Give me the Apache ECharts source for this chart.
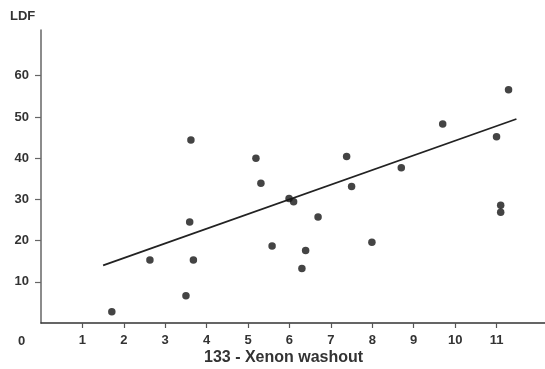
<!DOCTYPE html>
<html>
<head>
<meta charset="utf-8">
<script src="https://cdn.jsdelivr.net/npm/echarts@6/dist/echarts.min.js"></script>
<style>
  html, body { margin: 0; padding: 0; background: #fff; }
  #chart { width: 545px; height: 369px; }
</style>
</head>
<body>
<div id="chart"></div>
<script>
// xenon washout (x) vs LDF (y)
const xenon = [1.71, 2.63, 3.50, 3.62, 3.59, 3.68, 5.19, 5.31, 5.58, 5.99, 6.10, 6.30,
  6.39, 6.69, 7.38, 7.50, 7.99, 8.70, 9.70, 11.00, 11.10, 11.10, 11.29];
const ldf = [2.7, 15.3, 6.6, 44.4, 24.5, 15.3, 40.0, 33.9, 18.7, 30.2, 29.4, 13.2,
  17.6, 25.7, 40.4, 33.1, 19.6, 37.7, 48.3, 45.2, 28.6, 26.9, 56.6];

// regression line end points
const fitX = [1.5, 11.48];
const fitY = [14.0, 49.5];

const xTicks = [1, 2, 3, 4, 5, 6, 7, 8, 9, 10, 11];
const yTicks = [10, 20, 30, 40, 50, 60];

const chart = echarts.init(document.getElementById("chart"));

const labelStyle = {
  fontFamily: "Liberation Sans, Arial, sans-serif",
  fontSize: 13,
  fontWeight: "bold",
  color: "#333",
};

const options = {
  animation: false,
  grid: { left: 41, right: 0, top: 30, bottom: 46 },
  xAxis: {
    type: "value",
    min: 0,
    max: 12.17,
    splitLine: { show: false },
    axisLine: { lineStyle: { color: "#333", width: 1.5 } },
    axisTick: { customValues: xTicks, length: 5, lineStyle: { color: "#555", width: 1.2 } },
    axisLabel: { customValues: xTicks, margin: 11, ...labelStyle },
  },
  yAxis: {
    type: "value",
    min: 0,
    max: 71.1,
    splitLine: { show: false },
    axisLine: { show: true, lineStyle: { color: "#666", width: 1.5 } },
    axisTick: { show: true, customValues: yTicks, length: 6, lineStyle: { color: "#666", width: 1.2 } },
    axisLabel: { customValues: yTicks, margin: 12, ...labelStyle },
  },
  graphic: [
    {
      type: "text",
      left: 10,
      top: 10,
      style: { text: "LDF", font: "bold 13px Liberation Sans, Arial, sans-serif", fill: "#333" },
    },
    {
      type: "text",
      left: 18,
      top: 335,
      style: { text: "0", font: "bold 13px Liberation Sans, Arial, sans-serif", fill: "#333" },
    },
    {
      type: "text",
      left: 204,
      top: 350,
      style: { text: "133 - Xenon washout", font: "bold 16px Liberation Sans, Arial, sans-serif", fill: "#333" },
    },
  ],
  series: [
    {
      type: "line",
      data: fitX.map((x, i) => [x, fitY[i]]),
      symbol: "none",
      lineStyle: { color: "#222", width: 1.8 },
      z: 2,
    },
    {
      type: "scatter",
      data: xenon.map((x, i) => [x, ldf[i]]),
      symbolSize: 7.5,
      itemStyle: { color: "#151515" },
      z: 3,
    },
  ],
};

chart.setOption(options);
</script>
</body>
</html>
